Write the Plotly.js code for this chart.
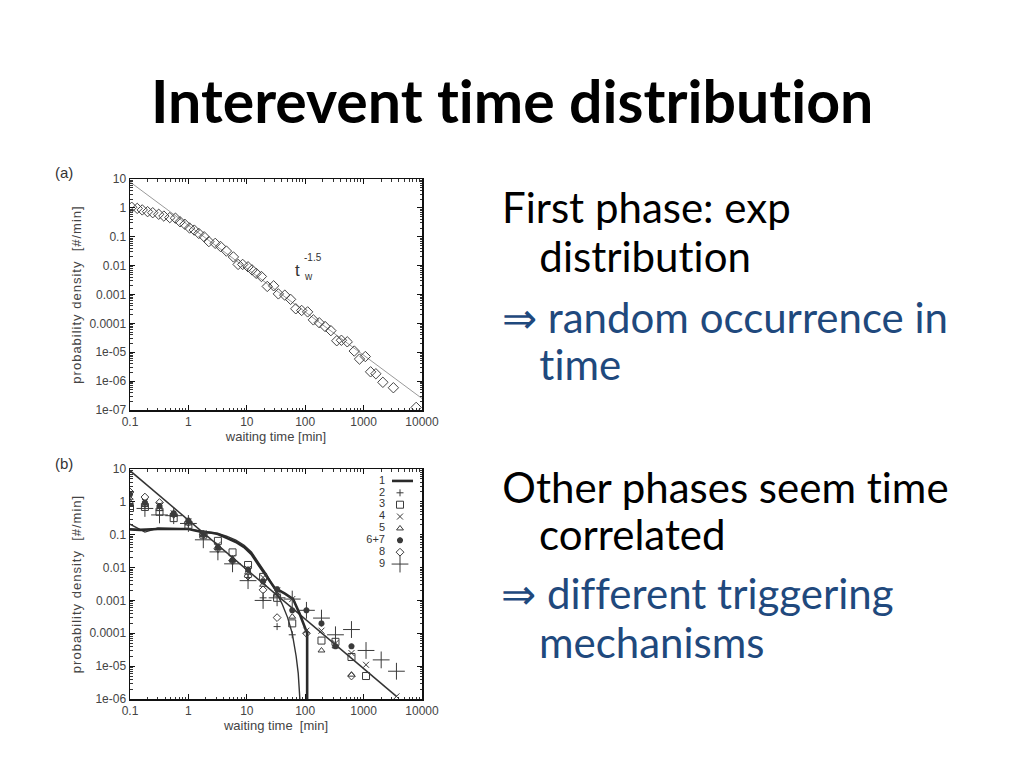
<!DOCTYPE html>
<html><head><meta charset="utf-8">
<script src="https://cdn.plot.ly/plotly-3.0.1.min.js"></script>
<style>
html,body{margin:0;padding:0;background:#fff}
#chart{width:1024px;height:768px}
#chart text{font-variant-ligatures:none;font-feature-settings:"liga" 0,"clig" 0;}
#chart .ytitle,#chart .y2title{letter-spacing:1px;}
</style>
</head><body><div id="chart"></div>
<script>
// ---------- Panel (a) data ----------
const aWaitX = [0.107,0.133,0.162,0.20,0.245,0.31,0.38,0.48,0.60,0.72,0.87,1.05,1.26,1.51,1.86,2.24,2.88,3.55,4.47,5.9,7.1,8.5,10.5,12.3,14.5,17.8,22.4,28.8,34.7,44.7,56.2,69,87,110,138,174,219,275,347,417,525,692,851,1070,1318,1622,2138,3236,7943];
const aDensity = [1.05,0.96,0.85,0.74,0.68,0.60,0.52,0.46,0.44,0.33,0.27,0.20,0.17,0.13,0.10,0.068,0.059,0.046,0.032,0.020,0.011,0.011,0.0091,0.0071,0.0054,0.0042,0.0019,0.0020,0.00105,0.00095,0.00068,0.00032,0.00028,0.00025,0.000132,0.000105,0.000078,0.000056,0.000025,0.000026,0.000023,0.000011,5.8e-6,7.1e-6,2.1e-6,1.8e-6,9.1e-7,5.9e-7,1.23e-7];
const aFitX = [0.1, 10000];
const aFitY = [7.9, 2.5e-7];

// ---------- Panel (b) data ----------
const bBins = [0.1,0.18,0.32,0.56,1.0,1.8,3.2,5.7,10.5,19,33,60,105,190,330,620,1100,2000,3650];
const s2  = [1.2,0.75,0.55,0.4,0.22,0.09,0.035,0.015,0.005,0.0012,1.6e-4,9e-5,null,null,null,null,null,null,null];
const s3  = [0.65,0.7,0.5,0.32,0.2,0.1,0.065,0.029,0.012,0.0052,0.0012,2e-4,null,6e-5,5.5e-5,1.9e-5,5e-6,null,null];
const s4  = [1.5,1.0,0.8,0.45,0.25,0.11,0.05,0.02,0.009,0.005,0.002,0.0011,1.2e-4,1.2e-4,5e-5,2.5e-5,1.1e-5,null,1.2e-6];
const s5  = [1.0,0.8,0.6,0.4,0.22,0.1,0.04,0.018,0.007,0.003,0.0015,3.2e-4,null,3e-5,4e-5,5.5e-6,null,null,null];
const s67 = [1.7,0.95,0.75,0.45,0.27,0.11,0.042,0.017,0.0088,0.0038,0.0022,5e-4,5e-4,2e-4,4e-5,4e-5,null,null,null];
const s8  = [2.0,1.4,0.95,0.42,0.24,0.1,0.038,0.016,0.0055,0.0021,3e-4,null,1e-4,null,null,5e-6,null,null,null];
const s9  = [null,0.63,0.4,0.38,0.22,0.07,0.03,0.013,0.004,0.001,0.0012,0.0011,5e-4,2.9e-4,9e-5,1.3e-4,3e-5,1.55e-5,7e-6];
const curve1X = [0.1,0.15,0.3,0.6,1.0,1.3,1.8,2.5,3.2,4.5,6.5,9,12,16,22,30,45,62,80,95,108,108];
const curve1Y = [0.145,0.14,0.15,0.15,0.15,0.135,0.12,0.115,0.105,0.08,0.06,0.042,0.026,0.012,0.0055,0.0024,0.0016,0.0011,0.0004,0.00018,0.0001,1e-6];
const curve2X = [0.1,0.18,0.3,0.6,1.0,1.5,2.2,3.2,4.5,6.5,9,12,16,22,30,40,50,60,70,76,81];
const curve2Y = [0.21,0.12,0.16,0.155,0.15,0.13,0.12,0.11,0.09,0.068,0.048,0.03,0.014,0.006,0.0022,0.0008,0.0003,0.0001,0.00002,0.000006,0.000001];
const bFitX = [0.1, 3650];
const bFitY = [8.9, 1.2e-6];

const legendLabels = ['1','2','3','4','5','6+7','8','9'];
const xTickVals = [0.1,1,10,100,1000,10000];
const xTickText = ['0.1','1','10','100','1000','10000'];
const yTickValsA = [10,1,0.1,0.01,0.001,0.0001,1e-5,1e-6,1e-7];
const yTickTextA = ['10','1','0.1','0.01','0.001','0.0001','1e-05','1e-06','1e-07'];
const yTickValsB = [10,1,0.1,0.01,0.001,0.0001,1e-5,1e-6];
const yTickTextB = ['10','1','0.1','0.01','0.001','0.0001','1e-05','1e-06'];

// ---------- styles ----------
const W = 1024, H = 768;
const px = v => v / W, py = v => 1 - v / H;
const MK = '#3a3a3a';
const seriesB = [
  {y: s2,  symbol: 'cross-thin-open', size: 5,  lw: 1},
  {y: s3,  symbol: 'square-open',     size: 7,  lw: 1},
  {y: s4,  symbol: 'x-thin-open',     size: 6,  lw: 1},
  {y: s5,  symbol: 'triangle-up-open',size: 6,  lw: 1},
  {y: s67, symbol: 'asterisk-open',   size: 5,  lw: 2},
  {y: s8,  symbol: 'diamond-open',    size: 6,  lw: 1},
  {y: s9,  symbol: 'cross-thin-open', size: 12, lw: 1}
];

const traces = [];
traces.push({x: aFitX, y: aFitY, xaxis: 'x', yaxis: 'y', mode: 'lines',
  line: {color: '#9a9a9a', width: 1}, hoverinfo: 'skip'});
traces.push({x: aWaitX, y: aDensity, xaxis: 'x', yaxis: 'y', mode: 'markers',
  marker: {symbol: 'diamond-open', size: 8, color: '#444', line: {width: 1}}});

traces.push({x: bFitX, y: bFitY, xaxis: 'x2', yaxis: 'y2', mode: 'lines', line: {color: '#333', width: 1.5}});
traces.push({x: curve2X, y: curve2Y, xaxis: 'x2', yaxis: 'y2', mode: 'lines', line: {color: '#333', width: 1.4}});
traces.push({x: curve1X, y: curve1Y, xaxis: 'x2', yaxis: 'y2', mode: 'lines', line: {color: '#2a2a2a', width: 2.6}});
seriesB.forEach(s => traces.push({x: bBins, y: s.y, xaxis: 'x2', yaxis: 'y2', mode: 'markers',
  marker: {symbol: s.symbol, size: s.size, color: MK, line: {width: s.lw, color: MK}}}));

// custom legend (symbol right of label, gnuplot style)
const LBL_X = 25, SYM_X = 40, LINE_X0 = 32, LINE_X1 = 53;
traces.push({x: legendLabels.map(() => LBL_X), y: legendLabels.map((_, i) => i), text: legendLabels,
  xaxis: 'x3', yaxis: 'y3', mode: 'text', textposition: 'middle left',
  textfont: {family: 'Liberation Sans, Arial, sans-serif', size: 11, color: '#333'}, cliponaxis: false});
traces.push({x: [LINE_X0, LINE_X1], y: [0, 0], xaxis: 'x3', yaxis: 'y3', mode: 'lines',
  line: {color: '#2a2a2a', width: 2.6}, cliponaxis: false});
seriesB.forEach((s, i) => traces.push({x: [SYM_X], y: [i + 1], xaxis: 'x3', yaxis: 'y3', mode: 'markers',
  marker: {symbol: s.symbol, size: s.size, color: MK, line: {width: s.lw, color: MK}}, cliponaxis: false}));

const tickFont = {family: 'Liberation Sans, Arial, sans-serif', size: 12, color: '#444'};
const xTitleFont = {family: 'Liberation Sans, Arial, sans-serif', size: 13, color: '#444'};
const yTitleFont = {family: 'Liberation Sans, Arial, sans-serif', size: 13, color: '#444'};
function logAxis(extra) {
  return Object.assign({
    type: 'log', showgrid: false, zeroline: false, showline: true, linecolor: '#111', linewidth: 1.5,
    mirror: 'ticks', ticks: 'inside', ticklen: 5, tickcolor: '#111', tickwidth: 1,
    minor: {ticks: 'inside', ticklen: 2.5, tickcolor: '#333', dtick: 'D1', showgrid: false},
    tickfont: tickFont, fixedrange: true
  }, extra);
}
const xDom = [px(130), px(422)];
const layout = {
  width: W, height: H, margin: {l: 0, r: 0, t: 0, b: 0}, showlegend: false,
  paper_bgcolor: '#fff', plot_bgcolor: '#fff',
  xaxis: logAxis({domain: xDom, range: [-1, 4], anchor: 'y', tickvals: xTickVals, ticktext: xTickText,
    title: {text: 'waiting time [min]', font: xTitleFont, standoff: 1}}),
  yaxis: logAxis({domain: [py(410), py(179)], range: [-7, 1], anchor: 'x', tickvals: yTickValsA, ticktext: yTickTextA,
    title: {text: 'probability density \u00a0[#/min]', font: yTitleFont, standoff: 5}}),
  xaxis2: logAxis({domain: xDom, range: [-1, 4], anchor: 'y2', tickvals: xTickVals, ticktext: xTickText,
    title: {text: 'waiting time \u00a0[min]', font: xTitleFont, standoff: 1}}),
  yaxis2: logAxis({domain: [py(699), py(469)], range: [-6, 1], anchor: 'x2', tickvals: yTickValsB, ticktext: yTickTextB,
    title: {text: 'probability density \u00a0[#/min]', font: yTitleFont, standoff: 5}}),
  xaxis3: {domain: [px(360), px(420)], range: [0, 60], visible: false, fixedrange: true, anchor: 'y3'},
  yaxis3: {domain: [py(570), py(475)], range: [7.5, -0.5], visible: false, fixedrange: true, anchor: 'x3'},
  annotations: []
};

const ann = layout.annotations;
const slideFont = 'Lato, Carlito, Calibri, sans-serif';
ann.push({text: '<b>Interevent time distribution</b>', xref: 'paper', yref: 'paper', x: px(512), y: py(100),
  xanchor: 'center', yanchor: 'middle', showarrow: false, font: {family: slideFont, size: 59, color: '#000'}});
const BLUE = '#1F497D';
const lines = [
  {t: 'First phase: exp', x: 500, base: 222, c: '#000'},
  {t: 'distribution', x: 537, base: 271, c: '#000'},
  {t: '\u21D2 random occurrence in', x: 500, base: 332, c: BLUE},
  {t: 'time', x: 537, base: 379, c: BLUE},
  {t: 'Other phases seem time', x: 500, base: 502, c: '#000'},
  {t: 'correlated', x: 537, base: 549, c: '#000'},
  {t: '\u21D2 different triggering', x: 500, base: 608, c: BLUE},
  {t: 'mechanisms', x: 537, base: 657, c: BLUE}
];
const FS = 42;
lines.forEach(l => ann.push({text: l.t, xref: 'paper', yref: 'paper', x: px(l.x), y: py(l.base - FS * 0.36),
  xanchor: 'left', yanchor: 'middle', showarrow: false, font: {family: slideFont, size: FS, color: l.c}}));

const smallFont = {family: 'Liberation Sans, Arial, sans-serif', size: 15, color: '#333'};
ann.push({text: '(a)', xref: 'paper', yref: 'paper', x: px(53), y: py(173), xanchor: 'left', yanchor: 'middle', showarrow: false, font: smallFont});
ann.push({text: '(b)', xref: 'paper', yref: 'paper', x: px(53), y: py(463), xanchor: 'left', yanchor: 'middle', showarrow: false, font: smallFont});
// t_w^-1.5 label
ann.push({text: 't', xref: 'paper', yref: 'paper', x: px(297), y: py(270), xanchor: 'center', yanchor: 'middle', showarrow: false,
  font: {family: 'Liberation Sans, Arial, sans-serif', size: 17, color: '#333'}});
ann.push({text: '-1.5', xref: 'paper', yref: 'paper', x: px(302), y: py(257), xanchor: 'left', yanchor: 'middle', showarrow: false,
  font: {family: 'Liberation Sans, Arial, sans-serif', size: 10, color: '#333'}});
ann.push({text: 'w', xref: 'paper', yref: 'paper', x: px(302), y: py(277), xanchor: 'left', yanchor: 'middle', showarrow: false,
  font: {family: 'Liberation Sans, Arial, sans-serif', size: 10, color: '#333'}});

Plotly.newPlot('chart', traces, layout, {staticPlot: true, displayModeBar: false});
</script></body></html>
